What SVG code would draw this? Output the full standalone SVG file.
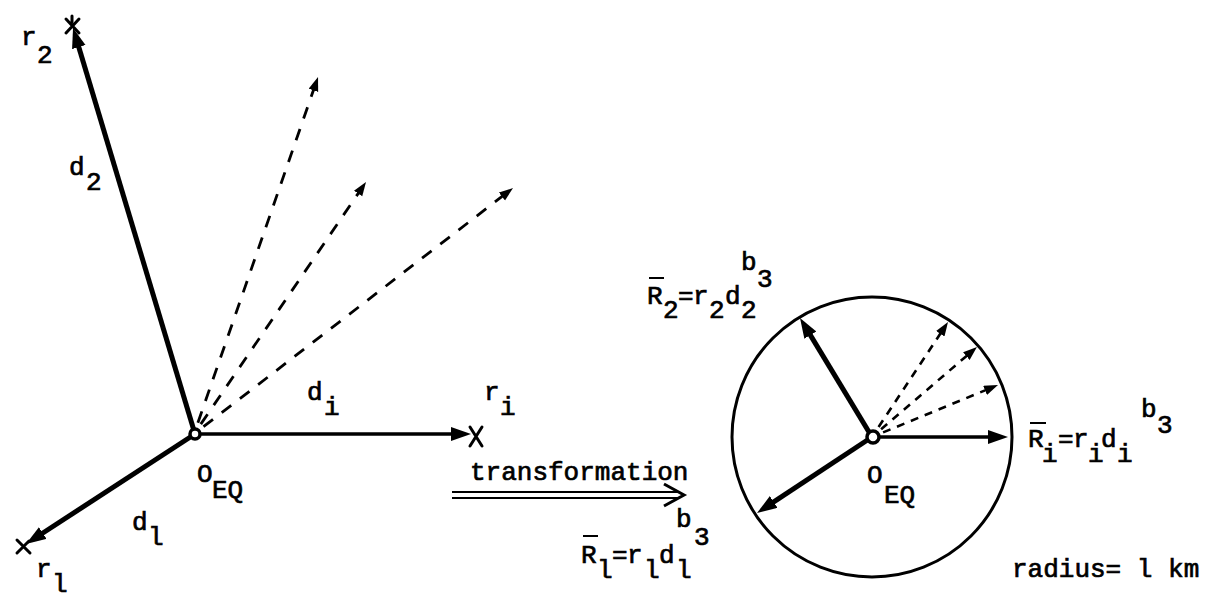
<svg xmlns="http://www.w3.org/2000/svg" width="1215" height="604" viewBox="0 0 1215 604">
<style>
.t{font-family:"Liberation Mono","Courier New",monospace;font-size:26px;fill:#000;stroke:#000;stroke-width:0.7}
.thick{stroke:#000;stroke-width:5;fill:none}
.mid{stroke:#000;stroke-width:3.5;fill:none}
.dashL{stroke:#000;stroke-width:2.8;fill:none;stroke-dasharray:12 11}
.dashR{stroke:#000;stroke-width:2.6;fill:none;stroke-dasharray:8 7}
.xm{stroke:#000;stroke-width:3;fill:none;stroke-linecap:round}
.ring{stroke:#000;stroke-width:3.5;fill:#fff}
.bar{stroke:#000;stroke-width:2}
</style>
<defs>
<marker id="ah" markerUnits="userSpaceOnUse" markerWidth="22" markerHeight="16" refX="9" refY="7" orient="auto"><path d="M0,0 L20,7 L0,14 z" fill="#000"/></marker>
<marker id="ahd" markerUnits="userSpaceOnUse" markerWidth="16" markerHeight="12" refX="6" refY="5" orient="auto"><path d="M0,0 L14,5 L0,10 z" fill="#000"/></marker>
</defs>
<rect width="1215" height="604" fill="#fff"/>

<g id="connectors">
<line class="thick" x1="195" y1="434" x2="76.2" y2="38.5" marker-end="url(#ah)"/>
<line class="thick" x1="195" y1="434" x2="35.2" y2="538" marker-end="url(#ah)"/>
<line class="mid" x1="195" y1="434" x2="460" y2="434" marker-end="url(#ah)"/>
<line class="dashL" x1="197.9" y1="422.7" x2="315.4" y2="84.6" marker-end="url(#ahd)"/>
<line class="dashL" x1="200.8" y1="424.1" x2="361.5" y2="188.6" marker-end="url(#ahd)"/>
<line class="dashL" x1="203.5" y1="426.7" x2="506.7" y2="192.9" marker-end="url(#ahd)"/>
<line class="thick" x1="872" y1="437" x2="805.7" y2="327.4" marker-end="url(#ah)"/>
<line class="thick" x1="872" y1="437" x2="766.2" y2="506.9" marker-end="url(#ah)"/>
<line class="mid" x1="872" y1="437" x2="997" y2="437" marker-end="url(#ah)"/>
<line class="dashR" x1="878.6" y1="427" x2="943.6" y2="328.7" marker-end="url(#ahd)"/>
<line class="dashR" x1="881.1" y1="429.2" x2="970.9" y2="352.2" marker-end="url(#ahd)"/>
<line class="dashR" x1="883.1" y1="432.4" x2="990.6" y2="388.1" marker-end="url(#ahd)"/>
<g id="transform-arrow">
<line class="bar" x1="452" y1="492" x2="680" y2="492" stroke-width="2.6"/>
<line class="bar" x1="452" y1="498" x2="680" y2="498" stroke-width="2.6"/>
<path d="M664,484 L684,495 L664,506" fill="none" stroke="#000" stroke-width="3"/>
</g>
</g>

<g id="origin-left">
<circle class="ring" cx="195" cy="434" r="5"/>
<text class="t"><tspan x="197" y="482">O</tspan><tspan x="212" y="498">EQ</tspan></text>
</g>
<g id="node-r2">
<path class="xm" d="M66,19 L79,33 M79,19 L66,33 M72,16 L72,22"/>
<text class="t"><tspan x="21" y="45">r</tspan><tspan x="37" y="63">2</tspan></text>
</g>
<g id="label-d2"><text class="t"><tspan x="69" y="175">d</tspan><tspan x="86" y="190">2</tspan></text></g>
<g id="node-r1">
<path class="xm" d="M17,540 L30,553 M17,553 L29,541"/>
<text class="t"><tspan x="36" y="577">r</tspan><tspan x="52" y="592">l</tspan></text>
</g>
<g id="label-d1"><text class="t"><tspan x="132" y="530">d</tspan><tspan x="148" y="545">l</tspan></text></g>
<g id="node-ri">
<path class="xm" d="M470,427 L482,446 M482,427 L470,446"/>
<text class="t"><tspan x="484" y="400">r</tspan><tspan x="500" y="415">i</tspan></text>
</g>
<g id="label-di"><text class="t"><tspan x="307" y="400">d</tspan><tspan x="324" y="415">i</tspan></text></g>
<g id="label-transformation"><text class="t" x="470" y="480">transformation</text></g>
<g id="label-R1">
<line class="bar" x1="583" y1="536" x2="598" y2="536"/>
<text class="t"><tspan x="581" y="563">R</tspan><tspan x="597" y="578">l</tspan><tspan x="612" y="563">=</tspan><tspan x="627" y="563">r</tspan><tspan x="644" y="578">l</tspan><tspan x="659" y="563">d</tspan><tspan x="676" y="578">l</tspan><tspan x="676" y="527">b</tspan><tspan x="694" y="545">3</tspan></text>
</g>

<g id="circle-node">
<circle cx="872" cy="437" r="140" fill="none" stroke="#000" stroke-width="3"/>
<circle class="ring" cx="873" cy="437" r="6"/>
<text class="t"><tspan x="867" y="483">O</tspan><tspan x="884" y="503">EQ</tspan></text>
</g>
<g id="label-R2">
<line class="bar" x1="649" y1="278" x2="664" y2="278"/>
<text class="t"><tspan x="647" y="304">R</tspan><tspan x="663" y="318">2</tspan><tspan x="678" y="304">=</tspan><tspan x="693" y="304">r</tspan><tspan x="709" y="318">2</tspan><tspan x="725" y="304">d</tspan><tspan x="741" y="318">2</tspan><tspan x="741" y="270">b</tspan><tspan x="757" y="287">3</tspan></text>
</g>
<g id="label-Ri">
<line class="bar" x1="1030" y1="423" x2="1046" y2="423"/>
<text class="t"><tspan x="1028" y="447">R</tspan><tspan x="1042" y="462">i</tspan><tspan x="1058" y="447">=</tspan><tspan x="1073" y="447">r</tspan><tspan x="1088" y="462">i</tspan><tspan x="1101" y="447">d</tspan><tspan x="1117" y="462">i</tspan><tspan x="1141" y="417">b</tspan><tspan x="1157" y="433">3</tspan></text>
</g>
<g id="label-radius"><text class="t" x="1012" y="577">radius= l km</text></g>
</svg>
